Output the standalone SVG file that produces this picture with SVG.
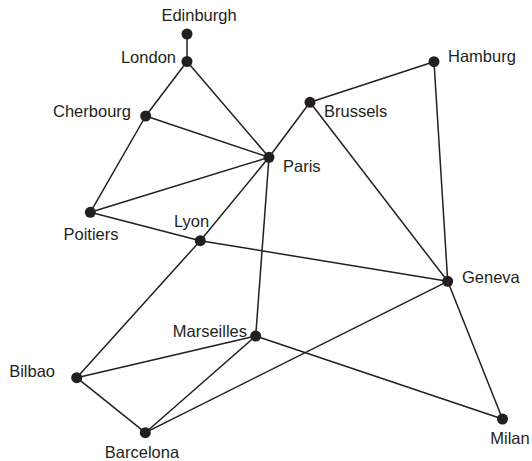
<svg xmlns="http://www.w3.org/2000/svg" width="532" height="461" viewBox="0 0 532 461">
<style>
.e{stroke:#231f20;stroke-width:1.5;fill:none}
.n{fill:#231f20}
text{font-family:"Liberation Sans",Arial,sans-serif;font-size:16.5px;fill:#231f20}
</style>
<rect width="532" height="461" fill="#fff"/>
<g id="edges">
<line class="e" x1="187" y1="34" x2="187" y2="61.5"/>
<line class="e" x1="187" y1="61.5" x2="145.7" y2="116"/>
<line class="e" x1="187" y1="61.5" x2="269" y2="157.3"/>
<line class="e" x1="145.7" y1="116" x2="269" y2="157.3"/>
<line class="e" x1="145.7" y1="116" x2="90.3" y2="212.3"/>
<line class="e" x1="90.3" y1="212.3" x2="269" y2="157.3"/>
<line class="e" x1="90.3" y1="212.3" x2="200.3" y2="240.7"/>
<line class="e" x1="200.3" y1="240.7" x2="447.7" y2="281.3"/>
<line class="e" x1="269" y1="157.3" x2="310" y2="102.3"/>
<line class="e" x1="269" y1="157.3" x2="200.3" y2="240.7"/>
<line class="e" x1="200.3" y1="240.7" x2="76.7" y2="377.7"/>
<line class="e" x1="269" y1="157.3" x2="255.7" y2="336"/>
<line class="e" x1="310" y1="102.3" x2="434" y2="61.7"/>
<line class="e" x1="310" y1="102.3" x2="447.7" y2="281.3"/>
<line class="e" x1="434" y1="61.7" x2="447.7" y2="281.3"/>
<line class="e" x1="447.7" y1="281.3" x2="502.5" y2="419"/>
<line class="e" x1="447.7" y1="281.3" x2="145.3" y2="432.7"/>
<line class="e" x1="255.7" y1="336" x2="76.7" y2="377.7"/>
<line class="e" x1="255.7" y1="336" x2="145.3" y2="432.7"/>
<line class="e" x1="255.7" y1="336" x2="502.5" y2="419"/>
<line class="e" x1="76.7" y1="377.7" x2="145.3" y2="432.7"/>
</g>
<g id="edinburgh"><circle class="n" cx="187" cy="34" r="5.5"/><text x="199" y="21" text-anchor="middle">Edinburgh</text></g>
<g id="london"><circle class="n" cx="187" cy="61.5" r="5.5"/><text x="176" y="63" text-anchor="end">London</text></g>
<g id="cherbourg"><circle class="n" cx="145.7" cy="116" r="5.5"/><text x="131" y="117" text-anchor="end">Cherbourg</text></g>
<g id="paris"><circle class="n" cx="269" cy="157.3" r="5.5"/><text x="283" y="171.5">Paris</text></g>
<g id="brussels"><circle class="n" cx="310" cy="102.3" r="5.5"/><text x="324" y="117">Brussels</text></g>
<g id="hamburg"><circle class="n" cx="434" cy="61.7" r="5.5"/><text x="448" y="62">Hamburg</text></g>
<g id="poitiers"><circle class="n" cx="90.3" cy="212.3" r="5.5"/><text x="91" y="240" text-anchor="middle">Poitiers</text></g>
<g id="lyon"><circle class="n" cx="200.3" cy="240.7" r="5.5"/><text x="174" y="227">Lyon</text></g>
<g id="geneva"><circle class="n" cx="447.7" cy="281.3" r="5.5"/><text x="462" y="283">Geneva</text></g>
<g id="marseilles"><circle class="n" cx="255.7" cy="336" r="5.5"/><text x="247" y="337" text-anchor="end">Marseilles</text></g>
<g id="bilbao"><circle class="n" cx="76.7" cy="377.7" r="5.5"/><text x="55" y="377" text-anchor="end">Bilbao</text></g>
<g id="barcelona"><circle class="n" cx="145.3" cy="432.7" r="5.5"/><text x="142" y="458" text-anchor="middle">Barcelona</text></g>
<g id="milan"><circle class="n" cx="502.5" cy="419" r="5.5"/><text x="510" y="444" text-anchor="middle">Milan</text></g>
</svg>
